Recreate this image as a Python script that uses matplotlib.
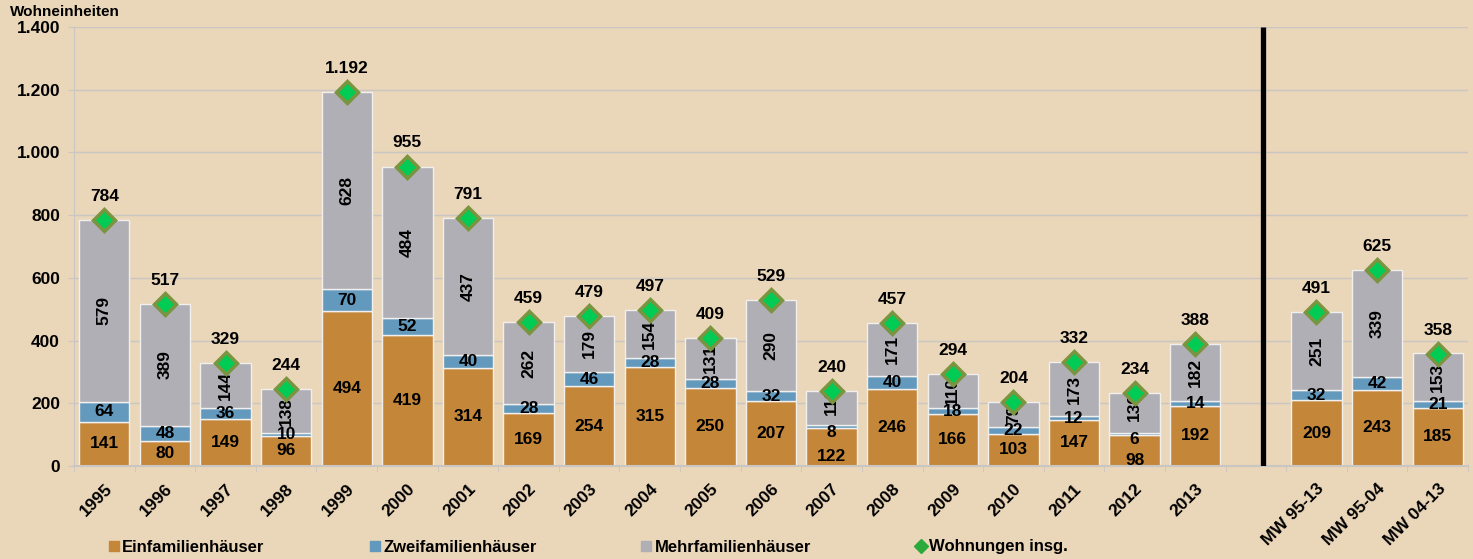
import matplotlib.pyplot as plt
from matplotlib.lines import Line2D
from matplotlib.ticker import FuncFormatter, FixedLocator

plt.rcParams['font.family'] = ['Liberation Sans', 'DejaVu Sans']
plt.rcParams['font.weight'] = 'bold'

# Daten
kategorien = ["1995", "1996", "1997", "1998", "1999", "2000", "2001", "2002", "2003",
              "2004", "2005", "2006", "2007", "2008", "2009", "2010", "2011", "2012",
              "2013", "MW 95-13", "MW 95-04", "MW 04-13"]
einfamilien = [141, 80, 149, 96, 494, 419, 314, 169, 254, 315, 250, 207, 122, 246,
               166, 103, 147, 98, 192, 209, 243, 185]
zweifamilien = [64, 48, 36, 10, 70, 52, 40, 28, 46, 28, 28, 32, 8, 40, 18, 22, 12, 6,
                14, 32, 42, 21]
mehrfamilien = [579, 389, 144, 138, 628, 484, 437, 262, 179, 154, 131, 290, 110, 171,
                110, 79, 173, 130, 182, 251, 339, 153]
gesamt = [784, 517, 329, 244, 1192, 955, 791, 459, 479, 497, 409, 529, 240, 457, 294,
          204, 332, 234, 388, 491, 625, 358]

# Positionen: 19 Jahre, eine Lücke, 3 Mittelwerte
pos = list(range(19)) + [20, 21, 22]

bg = "#EAD6B8"
c_ein = "#C4873A"
c_zwei = "#6399BC"
c_mehr = "#B0AFB5"
c_grid = "#C9C6C3"

fig = plt.figure(figsize=(14.73, 5.59), dpi=100, facecolor=bg)
ax = fig.add_axes([74 / 1473, 93 / 559, 1394 / 1473, 439 / 559])
ax.set_facecolor(bg)

w = 0.83
ax.bar(pos, einfamilien, width=w, color=c_ein, edgecolor="#F2F0EE", linewidth=1, zorder=2)
unten2 = einfamilien
ax.bar(pos, zweifamilien, width=w, bottom=unten2, color=c_zwei, edgecolor="#F2F0EE",
       linewidth=1, zorder=2)
unten3 = [a + b for a, b in zip(einfamilien, zweifamilien)]
ax.bar(pos, mehrfamilien, width=w, bottom=unten3, color=c_mehr, edgecolor="#F2F0EE",
       linewidth=1, zorder=2)

ax.plot(pos, gesamt, linestyle="none", marker="D", markersize=11,
        markerfacecolor="#00CC55", markeredgecolor="#7A9440", markeredgewidth=2.5, zorder=5)

def tsd(v):
    return f"{v:,}".replace(",", ".")

fs = 12.5
for x, e, z, m, g in zip(pos, einfamilien, zweifamilien, mehrfamilien, gesamt):
    # bei sehr kleinem Zweifamilien-Anteil Beschriftungen auseinanderschieben (wie Excel)
    eng = z < 10
    d_e, d_z, d_m = (-7, -4, 5) if eng else (0, 0, 0)
    ax.annotate(str(e), (x, e / 2), xytext=(0, d_e), textcoords="offset points",
                ha="center", va="center", fontsize=fs, fontweight="bold", zorder=4)
    ax.annotate(str(z), (x, e + z / 2), xytext=(0, d_z), textcoords="offset points",
                ha="center", va="center", fontsize=fs, fontweight="bold", zorder=4)
    ax.annotate(str(m), (x, e + z + m / 2), xytext=(0, d_m), textcoords="offset points",
                ha="center", va="center", fontsize=fs, fontweight="bold", rotation=90, zorder=4)
    ax.annotate(tsd(g), (x, g), xytext=(0, 17), textcoords="offset points",
                ha="center", va="center", fontsize=fs, fontweight="bold", zorder=4)

# Trennlinie
ax.plot([19.12, 19.12], [0, 1400], color="black", linewidth=3.8, zorder=3,
        solid_capstyle="butt")

ax.set_xlim(-0.5, 22.5)
ax.set_ylim(0, 1400)
ax.set_yticks(range(0, 1401, 200))
ax.yaxis.set_major_formatter(FuncFormatter(lambda v, p: tsd(int(v))))
ax.yaxis.grid(True, color=c_grid, linewidth=1, zorder=0)
ax.tick_params(axis="y", length=4, color=c_grid, labelsize=fs, pad=6)

ax.set_xticks(pos)
ax.set_xticklabels(kategorien, rotation=45, ha="right", rotation_mode="anchor",
                   fontsize=fs, fontweight="bold")
ax.tick_params(axis="x", which="major", length=0, pad=11)
ax.xaxis.set_minor_locator(FixedLocator([i - 0.5 for i in range(24)]))
ax.tick_params(axis="x", which="minor", length=4, color=c_grid)
for lbl in ax.get_yticklabels():
    lbl.set_fontweight("bold")

for s in ["top", "right"]:
    ax.spines[s].set_visible(False)
ax.spines["left"].set_color(c_grid)
ax.spines["bottom"].set_color(c_grid)
ax.spines["bottom"].set_linewidth(1.5)

fig.text(10 / 1473, 1 - 12 / 559, "Wohneinheiten", fontsize=11, fontweight="bold",
         va="center", ha="left")

handles = [
    Line2D([], [], linestyle="none", marker="s", markersize=7, color=c_ein),
    Line2D([], [], linestyle="none", marker="s", markersize=7, color=c_zwei),
    Line2D([], [], linestyle="none", marker="s", markersize=7, color=c_mehr),
    Line2D([], [], linestyle="none", marker="D", markersize=7, color="#2BAA3C"),
]
labels = ["Einfamilienhäuser", "Zweifamilienhäuser", "Mehrfamilienhäuser", "Wohnungen insg."]
fig.legend(handles, labels, loc="center left", bbox_to_anchor=(94 / 1473, 1 - 547 / 559),
           ncol=4, frameon=False, handlelength=0.6, handletextpad=0.2, columnspacing=6.3,
           prop={"size": 12, "weight": "bold"})

fig.savefig("out.png", dpi=100, facecolor=bg)
